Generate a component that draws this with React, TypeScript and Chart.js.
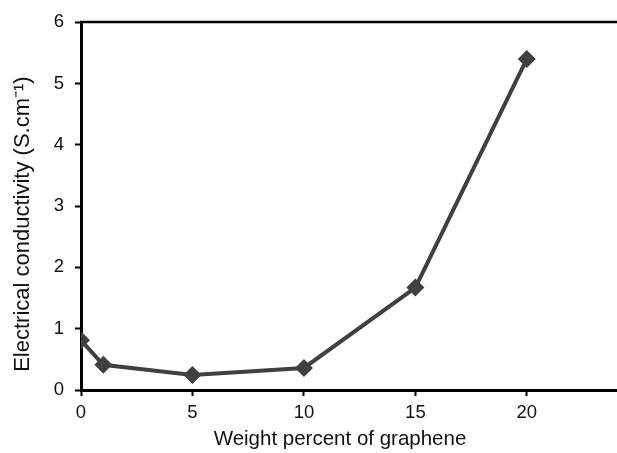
import React, { useEffect, useRef } from "react";
import { Chart, registerables } from "chart.js";

Chart.register(...registerables);

const weightPercent = [0, 1, 5, 10, 15, 20];
const conductivity = [0.81, 0.41, 0.245, 0.36, 1.67, 5.4];
const xTicks = [0, 5, 10, 15, 20];
const yTicks = [0, 1, 2, 3, 4, 5, 6];
const xTitle = "Weight percent of graphene";
const yTitle = "Electrical conductivity (S.cm\u207B\u00B9)";

const FONT = "'Liberation Sans', Arial, sans-serif";

const frameAndTitles = {
  id: "frameAndTitles",
  afterDraw(chart: any) {
    const { ctx, chartArea } = chart;
    ctx.save();
    ctx.strokeStyle = "#000";
    ctx.lineWidth = 2.5;
    ctx.beginPath();
    ctx.moveTo(chartArea.left - 1, chartArea.top);
    ctx.lineTo(chart.width, chartArea.top);
    ctx.stroke();

    ctx.fillStyle = "#111";
    ctx.font = `20.5px ${FONT}`;
    ctx.textAlign = "center";
    ctx.textBaseline = "alphabetic";
    ctx.fillText(xTitle, chartArea.left + 259, 445);

    ctx.translate(29, chartArea.top + 202);
    ctx.rotate(-Math.PI / 2);
    ctx.font = `22px ${FONT}`;
    ctx.fillText(yTitle, 0, 0);
    ctx.restore();
  },
};

export default function App() {
  const ref = useRef<HTMLCanvasElement>(null);
  useEffect(() => {
    if (!ref.current) return;
    const chart = new Chart(ref.current, {
      type: "line",
      data: {
        datasets: [
          {
            data: weightPercent.map((x, i) => ({ x, y: conductivity[i] })),
            borderColor: "#404040",
            backgroundColor: "#404040",
            borderWidth: 4,
            pointStyle: "rectRot",
            pointRadius: 9,
            pointHoverRadius: 9,
            pointBorderWidth: 0,
            tension: 0,
          },
        ],
      },
      options: {
        animation: false,
        responsive: false,
        maintainAspectRatio: false,
        layout: { padding: { top: 22, right: 0, left: 0, bottom: 0 } },
        plugins: { legend: { display: false }, tooltip: { enabled: false } },
        scales: {
          x: {
            type: "linear",
            min: 0,
            max: 24,
            afterBuildTicks: (axis: any) => {
              axis.ticks = xTicks.map((v) => ({ value: v }));
            },
            afterFit: (axis: any) => {
              axis.height = 63;
            },
            grid: {
              drawOnChartArea: false,
              drawTicks: true,
              tickLength: 6,
              tickWidth: 2,
              tickColor: "#000",
            },
            border: { color: "#000", width: 3 },
            ticks: {
              color: "#111",
              font: { family: FONT, size: 18.5 },
              padding: 6,
              maxRotation: 0,
            },
          },
          y: {
            type: "linear",
            min: 0,
            max: 6,
            afterBuildTicks: (axis: any) => {
              axis.ticks = yTicks.map((v) => ({ value: v }));
            },
            afterFit: (axis: any) => {
              axis.width = 81;
            },
            grid: {
              drawOnChartArea: false,
              drawTicks: true,
              tickLength: 6,
              tickWidth: 2,
              tickColor: "#000",
            },
            border: { color: "#000", width: 3 },
            ticks: {
              color: "#111",
              font: { family: FONT, size: 18.5 },
              padding: 11,
            },
          },
        },
      },
      plugins: [frameAndTitles],
    });
    return () => chart.destroy();
  }, []);
  return (
    <div style={{ position: "fixed", left: 0, top: 0, width: 617, height: 453, overflow: "hidden", background: "#fff" }}>
      <canvas ref={ref} width={625} height={453} style={{ width: 625, height: 453 }} />
    </div>
  );
}
